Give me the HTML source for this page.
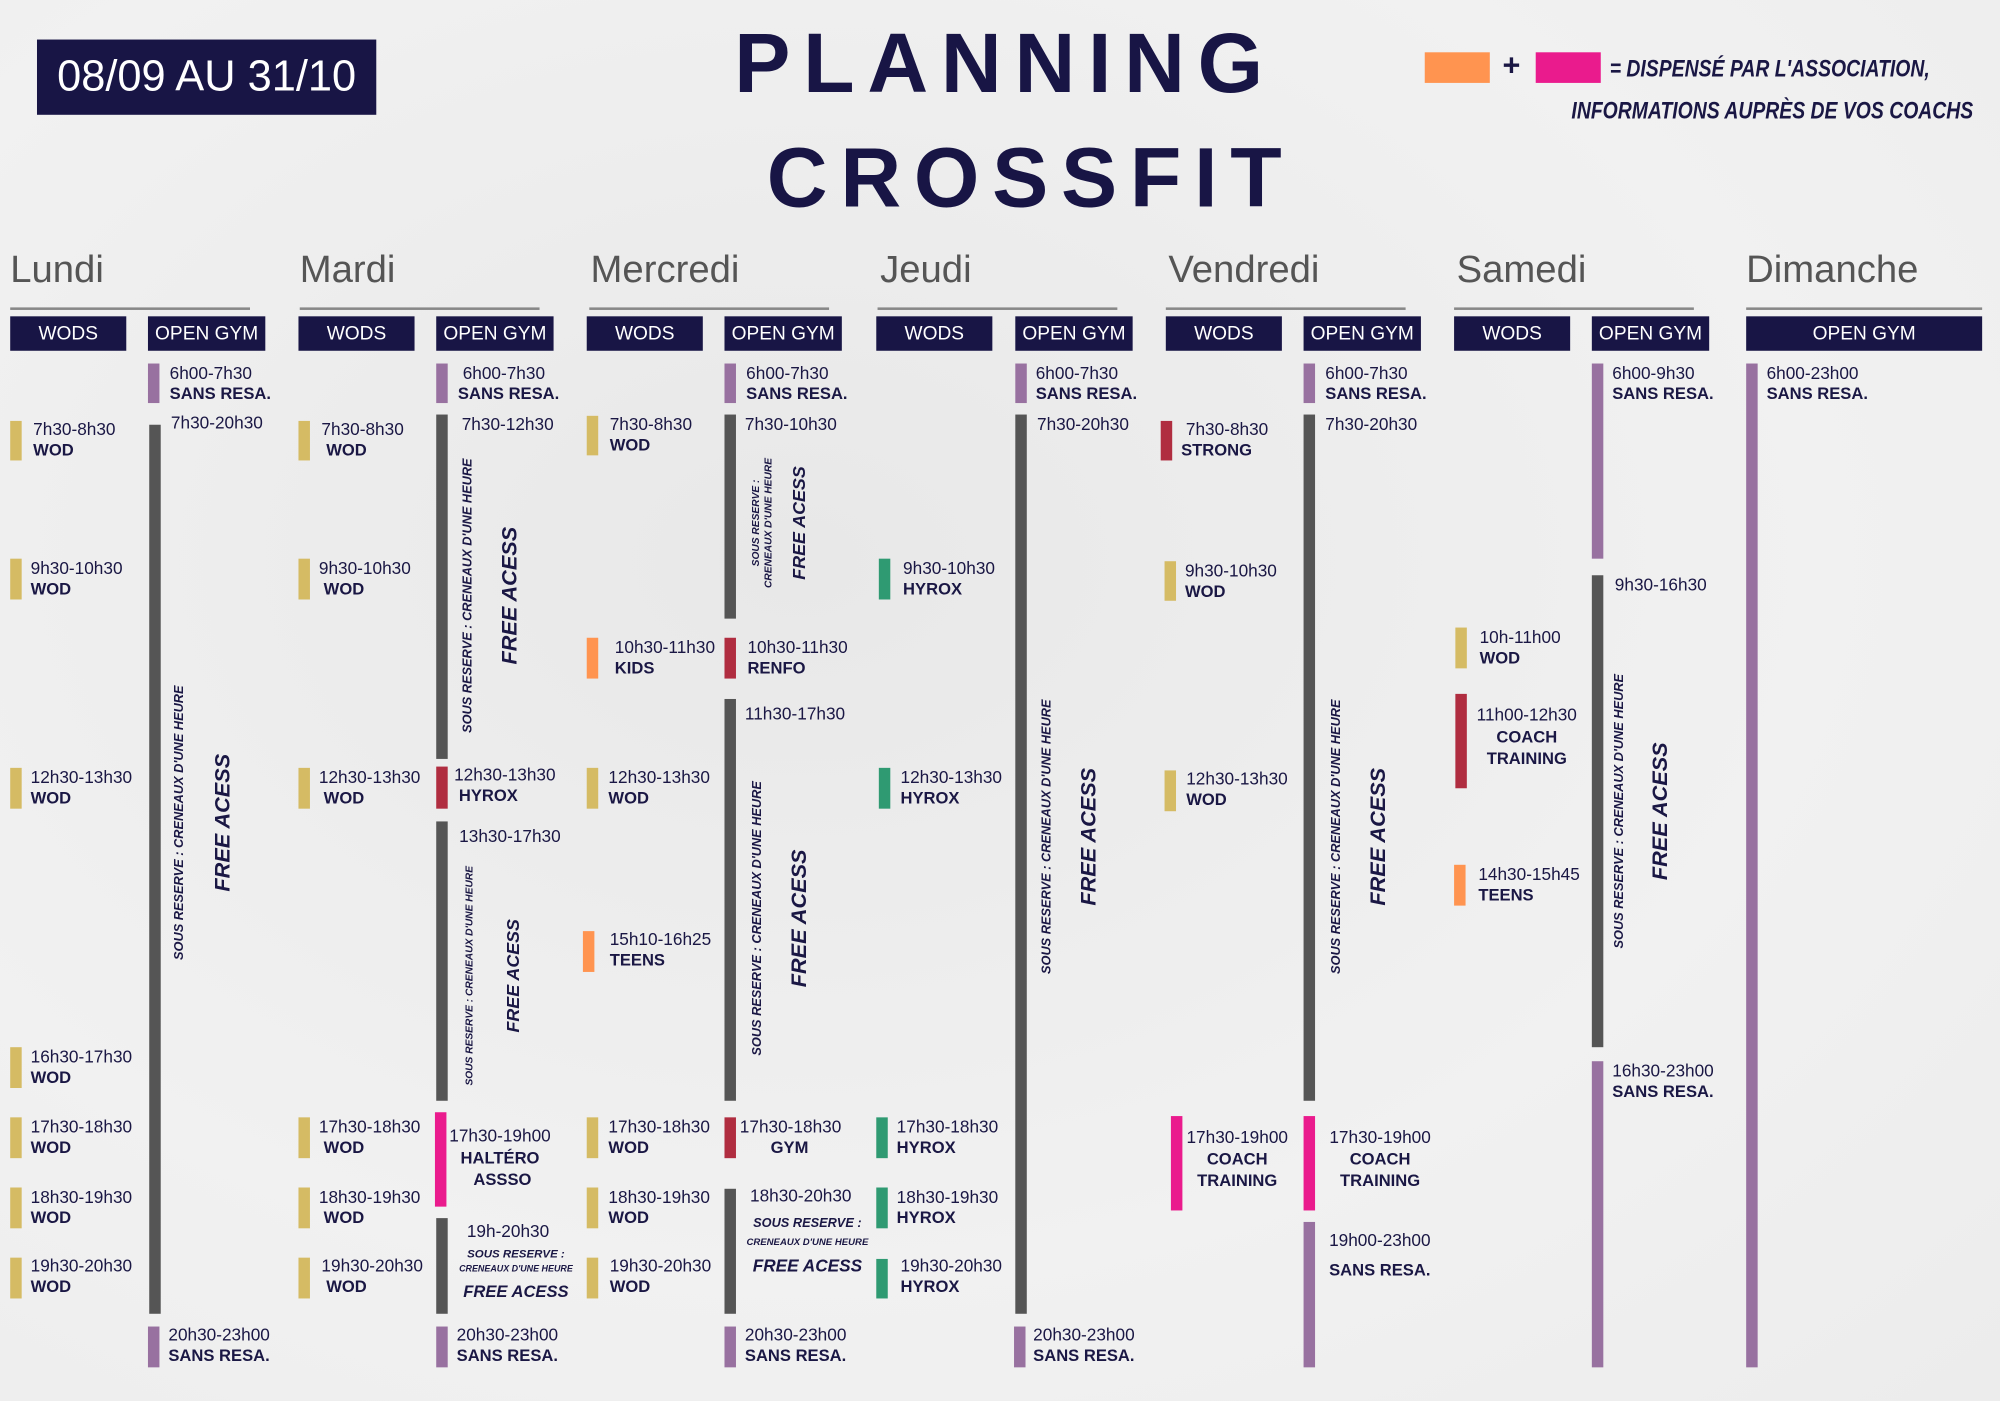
<!DOCTYPE html>
<html><head><meta charset="utf-8">
<style>
html,body{margin:0;padding:0;width:2000px;height:1400px;overflow:hidden;background:#eeeeee;}
#c{position:absolute;left:0;top:0;width:1568px;height:1098px;transform:scale(1.27551);transform-origin:0 0;font-family:"Liberation Sans",sans-serif;color:#1a1744;background:radial-gradient(ellipse at 40% 40%,#e8e8e8,#f1f1f1 60%,#ececec);}
.a{position:absolute}
.b{position:absolute;width:9px}
.g{background:#d5bb64}.p{background:#9871a0}.d{background:#555}.r{background:#b02d40}.gr{background:#2f9a72}.o{background:#ff9450}.k{background:#ea1b8d}
.t{position:absolute;font-size:13.5px;line-height:16px;white-space:nowrap}
.t b{font-weight:900;font-size:13px}
.day{position:absolute;top:195px;font-size:30px;color:#555;}
.ul{position:absolute;top:241px;height:2px;width:188px;background:#888}
.hb{position:absolute;top:248px;height:27px;background:#181545;color:#fff;font-size:15px;line-height:27px;text-align:center}
.rot{position:absolute;transform:translate(-50%,-50%) rotate(-90deg);white-space:nowrap;font-weight:900;font-style:italic}
.s{font-size:10px}.s2{font-size:8px}.f{font-size:17px}
.c{text-align:center}
</style></head><body><div id="c">

<div class="a" style="left:29px;top:31px;width:266px;height:59px;background:#181545;color:#fff;font-size:34px;line-height:59px;text-align:center">08/09 AU 31/10</div>
<div class="a" style="left:538px;top:14px;width:500px;text-align:center;font-size:66px;font-weight:700;letter-spacing:10px;color:#181545;line-height:70px">PLANNING</div>
<div class="a" style="left:558px;top:104px;width:500px;text-align:center;font-size:66px;font-weight:700;letter-spacing:10px;color:#181545;line-height:70px">CROSSFIT</div>
<div class="a o" style="left:1117px;top:41px;width:51px;height:24px"></div>
<div class="a" style="left:1178px;top:38px;font-size:24px;font-weight:900">+</div>
<div class="a k" style="left:1204px;top:41px;width:51px;height:24px"></div>
<div class="a" style="left:1262px;top:44px;font-size:19px;font-weight:700;font-style:italic;transform:scaleX(.8);transform-origin:0 0;white-space:nowrap">= DISPENSÉ PAR L'ASSOCIATION,</div>
<div class="a" style="left:1232px;top:77px;font-size:19px;font-weight:700;font-style:italic;transform:scaleX(.8);transform-origin:0 0;white-space:nowrap">INFORMATIONS AUPRÈS DE VOS COACHS</div>

<!-- headers -->
<div class="day" style="left:8px">Lundi</div><div class="day" style="left:235px">Mardi</div><div class="day" style="left:463px">Mercredi</div><div class="day" style="left:690px">Jeudi</div><div class="day" style="left:916px">Vendredi</div><div class="day" style="left:1142px">Samedi</div><div class="day" style="left:1369px">Dimanche</div>
<div class="ul" style="left:8px"></div><div class="ul" style="left:235px"></div><div class="ul" style="left:462px"></div><div class="ul" style="left:688px"></div><div class="ul" style="left:914px"></div><div class="ul" style="left:1140px"></div><div class="ul" style="left:1369px;width:185px"></div>
<div class="hb" style="left:8px;width:91px">WODS</div><div class="hb" style="left:116px;width:92px">OPEN GYM</div>
<div class="hb" style="left:234px;width:91px">WODS</div><div class="hb" style="left:342px;width:92px">OPEN GYM</div>
<div class="hb" style="left:460px;width:91px">WODS</div><div class="hb" style="left:568px;width:92px">OPEN GYM</div>
<div class="hb" style="left:687px;width:91px">WODS</div><div class="hb" style="left:796px;width:92px">OPEN GYM</div>
<div class="hb" style="left:914px;width:91px">WODS</div><div class="hb" style="left:1022px;width:92px">OPEN GYM</div>
<div class="hb" style="left:1140px;width:91px">WODS</div><div class="hb" style="left:1248px;width:92px">OPEN GYM</div>
<div class="hb" style="left:1369px;width:185px">OPEN GYM</div>

<!-- LUNDI -->
<div class="b g" style="left:8px;top:330px;height:31px"></div><div class="t" style="left:26px;top:329px">7h30-8h30<br><b>WOD</b></div>
<div class="b g" style="left:8px;top:438px;height:32px"></div><div class="t" style="left:24px;top:438px">9h30-10h30<br><b>WOD</b></div>
<div class="b g" style="left:8px;top:602px;height:32px"></div><div class="t" style="left:24px;top:602px">12h30-13h30<br><b>WOD</b></div>
<div class="b g" style="left:8px;top:821px;height:32px"></div><div class="t" style="left:24px;top:821px">16h30-17h30<br><b>WOD</b></div>
<div class="b g" style="left:8px;top:876px;height:32px"></div><div class="t" style="left:24px;top:876px">17h30-18h30<br><b>WOD</b></div>
<div class="b g" style="left:8px;top:931px;height:32px"></div><div class="t" style="left:24px;top:931px">18h30-19h30<br><b>WOD</b></div>
<div class="b g" style="left:8px;top:986px;height:32px"></div><div class="t" style="left:24px;top:985px">19h30-20h30<br><b>WOD</b></div>
<div class="b p" style="left:116px;top:285px;height:31px"></div><div class="t" style="left:133px;top:285px">6h00-7h30<br><b>SANS RESA.</b></div>
<div class="b d" style="left:117px;top:333px;height:697px"></div><div class="t" style="left:134px;top:324px">7h30-20h30</div>
<div class="rot s" style="left:141px;top:645px">SOUS RESERVE : CRENEAUX D'UNE HEURE</div>
<div class="rot f" style="left:175px;top:645px">FREE ACESS</div>
<div class="b p" style="left:116px;top:1040px;height:32px"></div><div class="t" style="left:132px;top:1039px">20h30-23h00<br><b>SANS RESA.</b></div>

<!-- MARDI -->
<div class="b g" style="left:234px;top:330px;height:31px"></div><div class="t" style="left:252px;top:329px">7h30-8h30<br>&nbsp;<b>WOD</b></div>
<div class="b g" style="left:234px;top:438px;height:32px"></div><div class="t" style="left:250px;top:438px">9h30-10h30<br>&nbsp;<b>WOD</b></div>
<div class="b g" style="left:234px;top:602px;height:32px"></div><div class="t" style="left:250px;top:602px">12h30-13h30<br>&nbsp;<b>WOD</b></div>
<div class="b g" style="left:234px;top:876px;height:32px"></div><div class="t" style="left:250px;top:876px">17h30-18h30<br>&nbsp;<b>WOD</b></div>
<div class="b g" style="left:234px;top:931px;height:32px"></div><div class="t" style="left:250px;top:931px">18h30-19h30<br>&nbsp;<b>WOD</b></div>
<div class="b g" style="left:234px;top:986px;height:32px"></div><div class="t" style="left:252px;top:985px">19h30-20h30<br>&nbsp;<b>WOD</b></div>
<div class="b p" style="left:342px;top:285px;height:31px"></div><div class="t" style="left:359px;top:285px">&nbsp;6h00-7h30<br><b>SANS RESA.</b></div>
<div class="b d" style="left:342px;top:325px;height:270px"></div><div class="t" style="left:362px;top:325px">7h30-12h30</div>
<div class="rot s" style="left:367px;top:467px">SOUS RESERVE : CRENEAUX D'UNE HEURE</div>
<div class="rot f" style="left:400px;top:467px">FREE ACESS</div>
<div class="b r" style="left:342px;top:601px;height:33px"></div><div class="t" style="left:356px;top:600px">12h30-13h30<br>&nbsp;<b>HYROX</b></div>
<div class="b d" style="left:342px;top:644px;height:219px"></div><div class="t" style="left:360px;top:648px">13h30-17h30</div>
<div class="rot s2" style="left:368px;top:765px">SOUS RESERVE : CRENEAUX D'UNE HEURE</div>
<div class="rot" style="left:402px;top:765px;font-size:14px">FREE ACESS</div>
<div class="b k" style="left:341px;top:872px;height:74px"></div><div class="t c" style="left:352px;top:882px;width:80px;line-height:17px">17h30-19h00<br><b>HALTÉRO</b><br>&nbsp;<b>ASSSO</b></div>
<div class="b d" style="left:342px;top:955px;height:75px"></div><div class="t" style="left:366px;top:958px">19h-20h30</div>
<div class="a c" style="left:352px;top:978px;width:105px;font-weight:900;font-style:italic;font-size:9px;line-height:11px">SOUS RESERVE :<br><span style="font-size:7px">CRENEAUX D'UNE HEURE</span></div>
<div class="a c" style="left:352px;top:1005px;width:105px;font-weight:900;font-style:italic;font-size:13px">FREE ACESS</div>
<div class="b p" style="left:342px;top:1040px;height:32px"></div><div class="t" style="left:358px;top:1039px">20h30-23h00<br><b>SANS RESA.</b></div>

<!-- MERCREDI -->
<div class="b g" style="left:460px;top:326px;height:31px"></div><div class="t" style="left:478px;top:325px">7h30-8h30<br><b>WOD</b></div>
<div class="b o" style="left:460px;top:500px;height:32px"></div><div class="t" style="left:482px;top:500px">10h30-11h30<br><b>KIDS</b></div>
<div class="b g" style="left:460px;top:602px;height:32px"></div><div class="t" style="left:477px;top:602px">12h30-13h30<br><b>WOD</b></div>
<div class="b o" style="left:457px;top:730px;height:32px"></div><div class="t" style="left:478px;top:729px">15h10-16h25<br><b>TEENS</b></div>
<div class="b g" style="left:460px;top:876px;height:32px"></div><div class="t" style="left:477px;top:876px">17h30-18h30<br><b>WOD</b></div>
<div class="b g" style="left:460px;top:931px;height:32px"></div><div class="t" style="left:477px;top:931px">18h30-19h30<br><b>WOD</b></div>
<div class="b g" style="left:460px;top:986px;height:32px"></div><div class="t" style="left:478px;top:985px">19h30-20h30<br><b>WOD</b></div>
<div class="b p" style="left:568px;top:285px;height:31px"></div><div class="t" style="left:585px;top:285px">6h00-7h30<br><b>SANS RESA.</b></div>
<div class="b d" style="left:568px;top:325px;height:160px"></div><div class="t" style="left:584px;top:325px">7h30-10h30</div>
<div class="rot" style="left:598px;top:410px;font-size:8px;line-height:10px;text-align:center">SOUS RESERVE :<br>CRENEAUX D'UNE HEURE</div>
<div class="rot" style="left:626px;top:410px;font-size:14px">FREE ACESS</div>
<div class="b r" style="left:568px;top:500px;height:32px"></div><div class="t" style="left:586px;top:500px">10h30-11h30<br><b>RENFO</b></div>
<div class="b d" style="left:568px;top:548px;height:315px"></div><div class="t" style="left:584px;top:552px">11h30-17h30</div>
<div class="rot s" style="left:594px;top:720px">SOUS RESERVE : CRENEAUX D'UNE HEURE</div>
<div class="rot f" style="left:627px;top:720px">FREE ACESS</div>
<div class="b r" style="left:568px;top:876px;height:32px"></div><div class="t c" style="left:580px;top:876px;width:78px">17h30-18h30<br><b>GYM</b></div>
<div class="b d" style="left:568px;top:932px;height:98px"></div><div class="t" style="left:588px;top:930px">18h30-20h30</div>
<div class="a c" style="left:578px;top:953px;width:110px;font-weight:900;font-style:italic;font-size:10px;line-height:14px">SOUS RESERVE :<br><span style="font-size:7.5px">CRENEAUX D'UNE HEURE</span></div>
<div class="a c" style="left:578px;top:985px;width:110px;font-weight:900;font-style:italic;font-size:13.5px">FREE ACESS</div>
<div class="b p" style="left:568px;top:1040px;height:32px"></div><div class="t" style="left:584px;top:1039px">20h30-23h00<br><b>SANS RESA.</b></div>

<!-- JEUDI -->
<div class="b gr" style="left:689px;top:438px;height:32px"></div><div class="t" style="left:708px;top:438px">9h30-10h30<br><b>HYROX</b></div>
<div class="b gr" style="left:689px;top:602px;height:32px"></div><div class="t" style="left:706px;top:602px">12h30-13h30<br><b>HYROX</b></div>
<div class="b gr" style="left:687px;top:876px;height:32px"></div><div class="t" style="left:703px;top:876px">17h30-18h30<br><b>HYROX</b></div>
<div class="b gr" style="left:687px;top:931px;height:32px"></div><div class="t" style="left:703px;top:931px">18h30-19h30<br><b>HYROX</b></div>
<div class="b gr" style="left:687px;top:987px;height:31px"></div><div class="t" style="left:706px;top:985px">19h30-20h30<br><b>HYROX</b></div>
<div class="b p" style="left:796px;top:285px;height:31px"></div><div class="t" style="left:812px;top:285px">6h00-7h30<br><b>SANS RESA.</b></div>
<div class="b d" style="left:796px;top:325px;height:705px"></div><div class="t" style="left:813px;top:325px">7h30-20h30</div>
<div class="rot s" style="left:821px;top:656px">SOUS RESERVE : CRENEAUX D'UNE HEURE</div>
<div class="rot f" style="left:854px;top:656px">FREE ACESS</div>
<div class="b p" style="left:795px;top:1040px;height:32px"></div><div class="t" style="left:810px;top:1039px">20h30-23h00<br><b>SANS RESA.</b></div>

<!-- VENDREDI -->
<div class="b r" style="left:910px;top:330px;height:31px"></div><div class="t" style="left:926px;top:329px">&nbsp;7h30-8h30<br><b>STRONG</b></div>
<div class="b g" style="left:913px;top:440px;height:31px"></div><div class="t" style="left:929px;top:440px">9h30-10h30<br><b>WOD</b></div>
<div class="b g" style="left:913px;top:604px;height:32px"></div><div class="t" style="left:930px;top:603px">12h30-13h30<br><b>WOD</b></div>
<div class="b k" style="left:918px;top:875px;height:74px"></div><div class="t c" style="left:930px;top:883px;width:80px;line-height:17px">17h30-19h00<br><b>COACH</b><br><b>TRAINING</b></div>
<div class="b p" style="left:1022px;top:285px;height:31px"></div><div class="t" style="left:1039px;top:285px">6h00-7h30<br><b>SANS RESA.</b></div>
<div class="b d" style="left:1022px;top:325px;height:538px"></div><div class="t" style="left:1039px;top:325px">7h30-20h30</div>
<div class="rot s" style="left:1048px;top:656px">SOUS RESERVE : CRENEAUX D'UNE HEURE</div>
<div class="rot f" style="left:1081px;top:656px">FREE ACESS</div>
<div class="b k" style="left:1022px;top:875px;height:74px"></div><div class="t c" style="left:1042px;top:883px;width:80px;line-height:17px">17h30-19h00<br><b>COACH</b><br><b>TRAINING</b></div>
<div class="b p" style="left:1022px;top:958px;height:114px"></div><div class="t" style="left:1042px;top:961px;line-height:23px">19h00-23h00<br><b>SANS RESA.</b></div>

<!-- SAMEDI -->
<div class="b g" style="left:1141px;top:492px;height:32px"></div><div class="t" style="left:1160px;top:492px">10h-11h00<br><b>WOD</b></div>
<div class="b r" style="left:1141px;top:544px;height:74px"></div><div class="t c" style="left:1155px;top:552px;width:84px;line-height:17px">11h00-12h30<br><b>COACH</b><br><b>TRAINING</b></div>
<div class="b o" style="left:1140px;top:678px;height:32px"></div><div class="t" style="left:1159px;top:678px">14h30-15h45<br><b>TEENS</b></div>
<div class="b p" style="left:1248px;top:285px;height:153px"></div><div class="t" style="left:1264px;top:285px">6h00-9h30<br><b>SANS RESA.</b></div>
<div class="b d" style="left:1248px;top:451px;height:370px"></div><div class="t" style="left:1266px;top:451px">9h30-16h30</div>
<div class="rot s" style="left:1270px;top:636px">SOUS RESERVE : CRENEAUX D'UNE HEURE</div>
<div class="rot f" style="left:1302px;top:636px">FREE ACESS</div>
<div class="b p" style="left:1248px;top:832px;height:240px"></div><div class="t" style="left:1264px;top:832px">16h30-23h00<br><b>SANS RESA.</b></div>

<!-- DIMANCHE -->
<div class="b p" style="left:1369px;top:285px;height:787px"></div><div class="t" style="left:1385px;top:285px">6h00-23h00<br><b>SANS RESA.</b></div>

</div></body></html>
